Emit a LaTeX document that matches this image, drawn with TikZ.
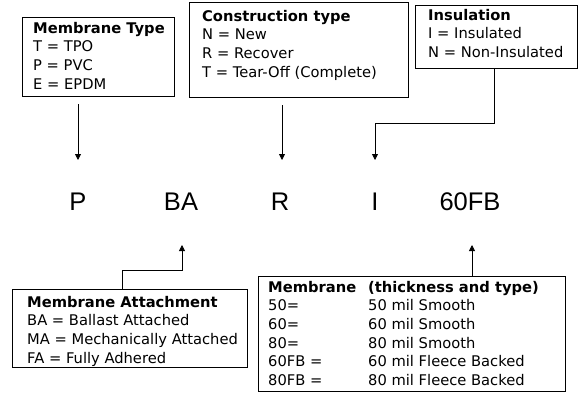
\documentclass[tikz,border=0pt]{standalone}
\usepackage{fontspec}
\setmainfont{DejaVu Sans}
\newfontfamily\bigfont{Liberation Sans}
\usetikzlibrary{arrows.meta,calc}
\begin{document}
\begin{tikzpicture}[x=1pt,y=-1pt,
  boxnode/.style={draw,line width=0.8pt,inner sep=0pt,anchor=north west},
  txt/.style={anchor=north west,inner sep=0pt,align=left,font=\fontsize{14.7}{18.6}\selectfont},
  code/.style={anchor=base,inner sep=0pt,font=\bigfont\fontsize{25.5}{30}\selectfont},
  arr/.style={line width=0.8pt,-{Triangle[length=6pt,width=6pt]}},
  ln/.style={line width=0.8pt}]
\useasboundingbox (0,0) rectangle (584,394);
% boxes
\node[boxnode,minimum width=152pt,minimum height=79pt] (mt) at (22,17) {};
\node[boxnode,minimum width=219pt,minimum height=95pt] (ct) at (189,2) {};
\node[boxnode,minimum width=162pt,minimum height=63pt] (ins) at (415,5) {};
\node[boxnode,minimum width=235pt,minimum height=78pt] (att) at (12,289) {};
\node[boxnode,minimum width=307pt,minimum height=115pt] (thk) at (258,276) {};
% texts
\node[txt] (mtt) at (33,22) {\textbf{Membrane Type}\\T = TPO\\P = PVC\\E = EPDM};
\node[txt] (ctt) at (202,10) {\textbf{Construction type}\\N = New\\R = Recover\\T = Tear-Off (Complete)};
\node[txt] (inst) at (428,9) {\textbf{Insulation}\\I = Insulated\\N = Non-Insulated};
\node[txt] (attt) at (27,296) {\textbf{Membrane Attachment}\\BA = Ballast Attached\\MA = Mechanically Attached\\FA = Fully Adhered};
\node[txt] (thkt) at (268,281) {\makebox[100pt][l]{\textbf{Membrane}}\textbf{(thickness and type)}\\
\makebox[100pt][l]{50=}50 mil Smooth\\
\makebox[100pt][l]{60=}60 mil Smooth\\
\makebox[100pt][l]{80=}80 mil Smooth\\
\makebox[100pt][l]{60FB =}60 mil Fleece Backed\\
\makebox[100pt][l]{80FB =}80 mil Fleece Backed};
% code letters
\node[code] (P) at (78,210) {P};
\node[code] (BA) at (181,210) {BA};
\node[code] (R) at (280,210) {R};
\node[code] (I) at (375,210) {I};
\node[code] (FB) at (470,210) {60FB};
% arrow ends
\coordinate (p0) at (78,104);
\coordinate (p1) at (78,160);
\coordinate (r0) at (282,105);
\coordinate (r1) at (282,160);
\coordinate (i1) at (375,160);
\coordinate (ba1) at (182,245);
\coordinate (fb1) at (472,245);
% arrows
\draw[arr] (p0) -- (p1);
\draw[arr] (r0) -- (r1);
\draw[arr] (ins.south -| 494,0) -- (494,123) -| (i1);
\draw[arr] (att.north -| 122,0) -- (122,270) -| (ba1);
\draw[arr] (thk.north -| fb1) -- (fb1);
\end{tikzpicture}
\end{document}
